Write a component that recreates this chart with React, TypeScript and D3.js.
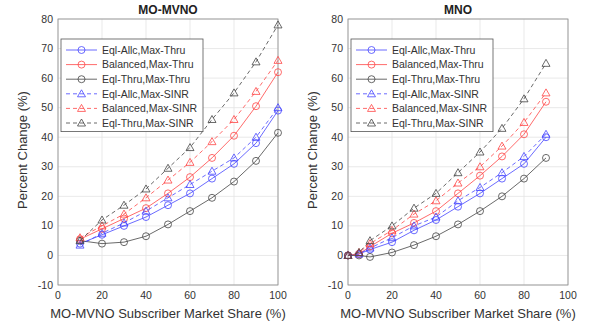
import React from 'react';
import * as d3 from 'd3';

const seriesNames = [
  'Eql-Allc,Max-Thru',
  'Balanced,Max-Thru',
  'Eql-Thru,Max-Thru',
  'Eql-Allc,Max-SINR',
  'Balanced,Max-SINR',
  'Eql-Thru,Max-SINR',
];

const leftX = [10, 20, 30, 40, 50, 60, 70, 80, 90, 100];
const leftValues = [
  [4, 7, 10, 13, 17, 21, 26, 31, 38, 49],
  [5.5, 9, 12.5, 16, 21, 26.5, 33, 40.5, 50.5, 62],
  [5, 4, 4.5, 6.5, 10.5, 15, 19.5, 25, 32, 41.5],
  [3.5, 7.5, 11, 15, 19.5, 24, 28.5, 33, 40, 50],
  [6, 10, 14, 19.5, 25.5, 31.5, 38.5, 46, 55.5, 66],
  [5, 12, 17, 22.5, 29.5, 36.5, 46, 55, 65.5, 78],
];

const rightX = [0, 5, 10, 20, 30, 40, 50, 60, 70, 80, 90];
const rightValues = [
  [0, 0.5, 2, 4.5, 8.5, 12, 16.5, 21, 26, 31, 40],
  [0, 0.5, 3, 7.5, 11, 15, 21, 27, 33.5, 41, 52],
  [0, 0, -0.5, 1, 3.5, 6.5, 10.5, 15, 20, 26, 33],
  [0, 0.5, 2.5, 6, 10, 13, 18.5, 23, 28, 33.5, 41],
  [0, 1, 4, 8.5, 14, 18.5, 24.5, 30, 37, 45, 55],
  [0, 1, 5, 10, 16, 21, 28, 35, 43, 53, 65],
];

const xTicks = [0, 20, 40, 60, 80, 100];
const yTicks = [-10, 0, 10, 20, 30, 40, 50, 60, 70, 80];

const colors = ['#4545ff', '#ff4545', '#444444', '#4545ff', '#ff4545', '#444444'];
const dashed = [false, false, false, true, true, true];

const font = 'Liberation Sans, Arial, sans-serif';

function Marker({ x, y, tri, color }: { x: number; y: number; tri: boolean; color: string }) {
  if (tri) {
    const r = 4;
    return (
      <path
        d={`M${x},${y - r}L${x + r},${y + r * 0.75}L${x - r},${y + r * 0.75}Z`}
        fill="none"
        stroke={color}
        strokeWidth={0.8}
      />
    );
  }
  return <circle cx={x} cy={y} r={3.5} fill="none" stroke={color} strokeWidth={0.8} />;
}

function Panel({ offsetX, title, xs, values }: { offsetX: number; title: string; xs: number[]; values: number[][] }) {
  const left = offsetX + 58;
  const right = offsetX + 278;
  const top = 19;
  const bottom = 285;
  const x = d3.scaleLinear().domain([0, 100]).range([left, right]);
  const y = d3.scaleLinear().domain([-10, 80]).range([bottom, top]);
  const line = d3
    .line<number>()
    .x((_, i) => x(xs[i]))
    .y((d) => y(d))
    .curve(d3.curveLinear);

  const lgX = offsetX + 61;
  const lgY = 39;
  const rowH = 14.6;

  return (
    <g fontFamily={font}>
      {xTicks.map((t) => (
        <line key={'gx' + t} x1={x(t)} x2={x(t)} y1={top} y2={bottom} stroke="#e3e3e3" strokeWidth={0.8} />
      ))}
      {yTicks.map((t) => (
        <line key={'gy' + t} x1={left} x2={right} y1={y(t)} y2={y(t)} stroke="#e3e3e3" strokeWidth={0.8} />
      ))}
      <rect x={left} y={top} width={right - left} height={bottom - top} fill="none" stroke="#8a8a8a" strokeWidth={0.8} />
      {xTicks.map((t) => (
        <text key={'tx' + t} x={x(t)} y={bottom + 14} fontSize={10.5} textAnchor="middle" fill="#333">
          {t}
        </text>
      ))}
      {yTicks.map((t) => (
        <text key={'ty' + t} x={left - 5} y={y(t) + 3.5} fontSize={10.5} textAnchor="end" fill="#333">
          {t}
        </text>
      ))}
      <text x={(left + right) / 2} y={14} fontSize={12} fontWeight="bold" textAnchor="middle" fill="#222">
        {title}
      </text>
      <text x={(left + right) / 2} y={318} fontSize={13} textAnchor="middle" fill="#333">
        MO-MVNO Subscriber Market Share (%)
      </text>
      <text
        transform={`translate(${offsetX + 27},${(top + bottom) / 2 - 2}) rotate(-90)`}
        fontSize={13}
        textAnchor="middle"
        fill="#333"
      >
        Percent Change (%)
      </text>
      {values.map((vals, s) => (
        <g key={'s' + s}>
          <path
            d={line(vals) || ''}
            fill="none"
            stroke={colors[s]}
            strokeWidth={0.8}
            strokeDasharray={dashed[s] ? '4,3' : undefined}
          />
          {vals.map((v, i) => (
            <Marker key={i} x={x(xs[i])} y={y(v)} tri={dashed[s]} color={colors[s]} />
          ))}
        </g>
      ))}
      <rect x={lgX} y={lgY} width={142} height={rowH * 6 + 5} fill="#fff" stroke="#555" strokeWidth={0.8} />
      {seriesNames.map((name, s) => {
        const ry = lgY + 11 + s * rowH;
        return (
          <g key={'l' + s}>
            <line
              x1={lgX + 5}
              x2={lgX + 36}
              y1={ry}
              y2={ry}
              stroke={colors[s]}
              strokeWidth={0.8}
              strokeDasharray={dashed[s] ? '4,3' : undefined}
            />
            <Marker x={lgX + 20.5} y={ry} tri={dashed[s]} color={colors[s]} />
            <text x={lgX + 41} y={ry + 3.8} fontSize={10.5} fill="#333">
              {name}
            </text>
          </g>
        );
      })}
    </g>
  );
}

export default function App() {
  return (
    <svg width={589} height={328} style={{ position: 'absolute', left: 0, top: 0, background: '#fff' }}>
      <Panel offsetX={0} title="MO-MVNO" xs={leftX} values={leftValues} />
      <Panel offsetX={290} title="MNO" xs={rightX} values={rightValues} />
    </svg>
  );
}
